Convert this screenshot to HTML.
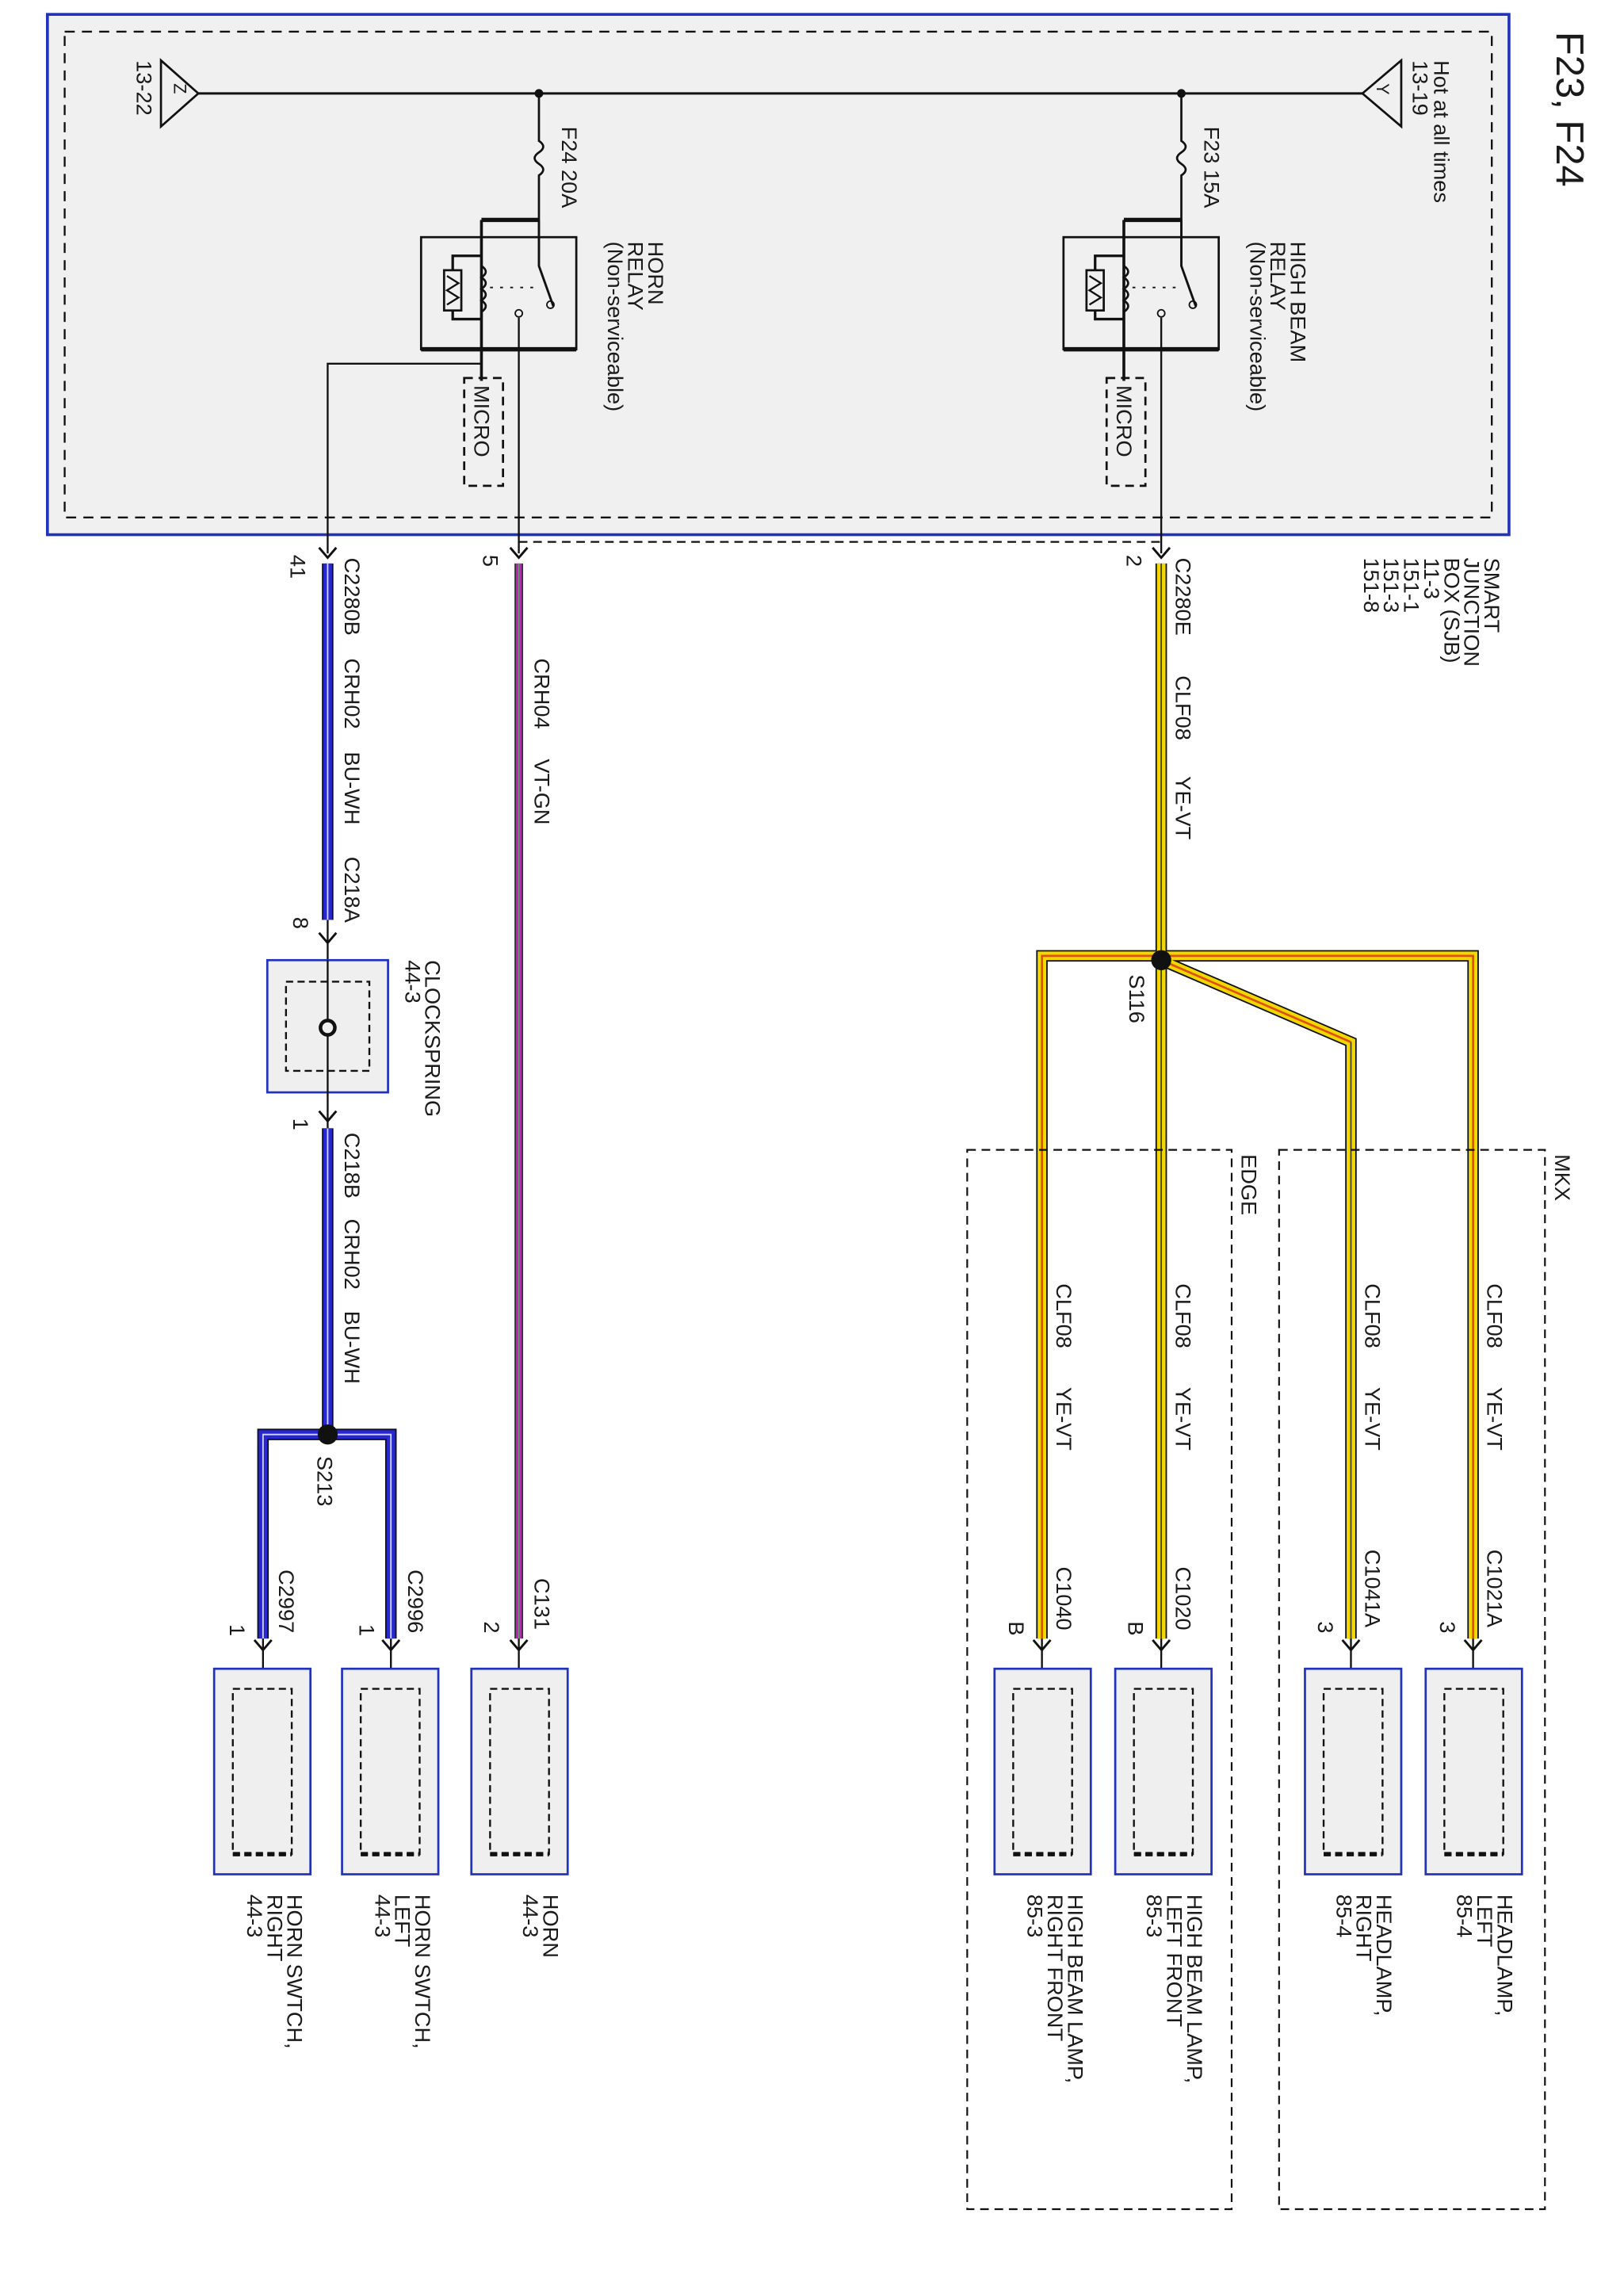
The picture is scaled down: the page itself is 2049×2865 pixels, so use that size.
<!DOCTYPE html>
<html><head><meta charset="utf-8"><style>
html,body{margin:0;padding:0;background:#fff}
svg{display:block}
text{font-family:"Liberation Sans",sans-serif;fill:#1a1a1a;font-size:15px}
</style></head><body>
<svg width="2049" height="2865" viewBox="0 0 1130 1580" xmlns="http://www.w3.org/2000/svg">
<defs>
<g id="arr"><polyline points="-6,-7 0,0 6,-7" fill="none" stroke="#111" stroke-width="1.6"/></g>
<g id="comp">
<rect x="0" y="0" width="67" height="143" fill="#efefef" stroke="#2233bb" stroke-width="1.5"/>
<rect x="13" y="14" width="41" height="115" fill="none" stroke="#111" stroke-width="1.3" stroke-dasharray="5,3"/>
<line x1="13" y1="129" x2="54" y2="129" stroke="#111" stroke-width="3" stroke-dasharray="5,3"/>
</g>
</defs>
<rect x="33" y="10" width="1017" height="362" fill="#f0f0f0" stroke="#2233bb" stroke-width="2"/>
<rect x="45" y="22" width="993" height="338" fill="none" stroke="#111" stroke-width="1.3" stroke-dasharray="7,5"/>
<text transform="translate(1083,22) rotate(90)" style="font-size:27px">F23, F24</text>
<line x1="138" y1="65" x2="948" y2="65" stroke="#111" stroke-width="1.6"/>
<polygon points="948,65 975,42 975,88" fill="#f0f0f0" stroke="#111" stroke-width="1.5"/>
<text transform="translate(958,58) rotate(90)" style="font-size:12px">Y</text>
<text transform="translate(983,42) rotate(90)">13-19</text>
<text transform="translate(998,42) rotate(90)">Hot at all times</text>
<polygon points="138,65 112,42 112,88" fill="#f0f0f0" stroke="#111" stroke-width="1.5"/>
<text transform="translate(121,58) rotate(90)" style="font-size:12px">Z</text>
<text transform="translate(95,42) rotate(90)">13-22</text>
<circle cx="375" cy="65" r="3" fill="#111"/><circle cx="822" cy="65" r="3" fill="#111"/>

<g id="relayHB">
<path d="M822,65 V98 q6,4 0,8 q-6,4 0,8 q6,4 0,8 V153" fill="none" stroke="#111" stroke-width="1.5"/>
<rect x="740" y="165" width="108" height="78" fill="none" stroke="#111" stroke-width="1.5"/>
<line x1="740" y1="243" x2="848" y2="243" stroke="#111" stroke-width="3"/>
<line x1="782" y1="153" x2="822" y2="153" stroke="#111" stroke-width="3"/>
<line x1="782" y1="153" x2="782" y2="265" stroke="#111" stroke-width="2"/>
<path d="M782,185 q6,4 0,8 q6,4 0,8 q6,4 0,8 q6,4 0,8" fill="none" stroke="#111" stroke-width="1.5"/>
<polyline points="782,178 762,178 762,222 782,222" fill="none" stroke="#111" stroke-width="1.8"/>
<rect x="756" y="188" width="12" height="28" fill="#f0f0f0" stroke="#111" stroke-width="1.5"/>
<polyline points="758,192 766,197 758,202 766,207 758,212" fill="none" stroke="#111" stroke-width="1.3"/>
<line x1="788" y1="200" x2="818" y2="200" stroke="#111" stroke-width="1" stroke-dasharray="2,5"/>
<polyline points="822,153 822,185 832,213" fill="none" stroke="#111" stroke-width="1.6"/>
<circle cx="830" cy="212" r="2.5" fill="none" stroke="#111"/>
<circle cx="808" cy="218" r="2.5" fill="none" stroke="#111"/>
<line x1="808" y1="221" x2="808" y2="385" stroke="#111" stroke-width="1.3"/>
<rect x="770" y="263" width="27" height="75" fill="none" stroke="#111" stroke-width="1.5" stroke-dasharray="6,4"/>
<text transform="translate(777,268) rotate(90)">MICRO</text>
</g>
<text transform="translate(838,88) rotate(90)">F23  15A</text>
<text transform="translate(898,168) rotate(90)">HIGH BEAM</text>
<text transform="translate(884,168) rotate(90)">RELAY</text>
<text transform="translate(870,168) rotate(90)">(Non-serviceable)</text>
<g transform="translate(-447,0)"><use href="#relayHB"/></g>
<text transform="translate(391,88) rotate(90)">F24  20A</text>
<text transform="translate(451,168) rotate(90)">HORN</text>
<text transform="translate(437,168) rotate(90)">RELAY</text>
<text transform="translate(423,168) rotate(90)">(Non-serviceable)</text>
<polyline points="335,253 228,253 228,385" fill="none" stroke="#111" stroke-width="1.3"/>

<line x1="361" y1="377" x2="808" y2="377" stroke="#111" stroke-width="1.3" stroke-dasharray="6,4"/>
<g transform="translate(228,388)"><use href="#arr"/></g>
<g transform="translate(361,388)"><use href="#arr"/></g>
<g transform="translate(808,388)"><use href="#arr"/></g>
<text transform="translate(202,386) rotate(90)">41</text>
<text transform="translate(336,386) rotate(90)">5</text>
<text transform="translate(784,386) rotate(90)">2</text>
<text transform="translate(1033,388) rotate(90)">SMART</text>
<text transform="translate(1019,388) rotate(90)">JUNCTION</text>
<text transform="translate(1005,388) rotate(90)">BOX (SJB)</text>
<text transform="translate(991,388) rotate(90)">11-3</text>
<text transform="translate(977,388) rotate(90)">151-1</text>
<text transform="translate(963,388) rotate(90)">151-3</text>
<text transform="translate(949,388) rotate(90)">151-8</text>

<g fill="none" stroke-linejoin="miter">
<path d="M808,392 V1140 M808,668 L940,725 V1140 M808,665 H1025 V1140 M808,665 H725 V1140" stroke="#111" stroke-width="8"/>
<path d="M808,392 V1140 M808,668 L940,725 V1140 M808,665 H1025 V1140 M808,665 H725 V1140" stroke="#f2d800" stroke-width="6"/>
<path d="M808,668 L940,725 M808,665 H1025 V1140 M808,665 H725 V1140" stroke="#e05010" stroke-width="1.5"/>
<path d="M808,392 V1140 M940,725 V1140" stroke="#443" stroke-width="1"/>
</g>
<circle cx="808" cy="668" r="7" fill="#111"/>
<text transform="translate(818,388) rotate(90)">C2280E</text>
<text transform="translate(818,470) rotate(90)">CLF08</text>
<text transform="translate(818,540) rotate(90)">YE-VT</text>
<text transform="translate(786,678) rotate(90)">S116</text>

<rect x="890" y="800" width="185" height="737" fill="none" stroke="#111" stroke-width="1.2" stroke-dasharray="6,4"/>
<rect x="673" y="800" width="184" height="737" fill="none" stroke="#111" stroke-width="1.2" stroke-dasharray="6,4"/>
<text transform="translate(1082,803) rotate(90)">MKX</text>
<text transform="translate(864,803) rotate(90)">EDGE</text>

<text transform="translate(1035,893) rotate(90)">CLF08</text><text transform="translate(1035,965) rotate(90)">YE-VT</text>
<text transform="translate(950,893) rotate(90)">CLF08</text><text transform="translate(950,965) rotate(90)">YE-VT</text>
<text transform="translate(818,893) rotate(90)">CLF08</text><text transform="translate(818,965) rotate(90)">YE-VT</text>
<text transform="translate(735,893) rotate(90)">CLF08</text><text transform="translate(735,965) rotate(90)">YE-VT</text>

<text transform="translate(1035,1078) rotate(90)">C1021A</text><text transform="translate(1002,1128) rotate(90)">3</text>
<text transform="translate(950,1078) rotate(90)">C1041A</text><text transform="translate(917,1128) rotate(90)">3</text>
<text transform="translate(818,1090) rotate(90)">C1020</text><text transform="translate(785,1128) rotate(90)">B</text>
<text transform="translate(735,1090) rotate(90)">C1040</text><text transform="translate(702,1128) rotate(90)">B</text>

<line x1="361" y1="392" x2="361" y2="1140" stroke="#333" stroke-width="6"/>
<line x1="361" y1="392" x2="361" y2="1140" stroke="#c020c0" stroke-width="4"/>
<line x1="361" y1="392" x2="361" y2="1140" stroke="#60a060" stroke-width="0.8"/>
<text transform="translate(372,458) rotate(90)">CRH04</text>
<text transform="translate(372,528) rotate(90)">VT-GN</text>
<text transform="translate(372,1098) rotate(90)">C131</text>
<text transform="translate(337,1128) rotate(90)">2</text>

<g fill="none">
<path d="M228,392 V640 M228,785 V998 M228,998 H183 V1140 M228,998 H272 V1140" stroke="#111" stroke-width="8"/>
<path d="M228,392 V640 M228,785 V998 M228,998 H183 V1140 M228,998 H272 V1140" stroke="#2828d0" stroke-width="6"/>
<path d="M228,392 V640 M228,785 V998 M228,998 H183 V1140 M228,998 H272 V1140" stroke="#d8d8ff" stroke-width="1"/>
</g>
<circle cx="228" cy="998" r="7" fill="#111"/>
<text transform="translate(240,388) rotate(90)">C2280B</text>
<text transform="translate(240,458) rotate(90)">CRH02</text>
<text transform="translate(240,523) rotate(90)">BU-WH</text>
<text transform="translate(240,596) rotate(90)">C218A</text>
<text transform="translate(204,638) rotate(90)">8</text>
<line x1="228" y1="640" x2="228" y2="668" stroke="#111" stroke-width="1.3"/>
<g transform="translate(228,656)"><use href="#arr"/></g>
<rect x="186" y="668" width="84" height="92" fill="#efefef" stroke="#2233bb" stroke-width="1.5"/>
<rect x="199" y="683" width="58" height="62" fill="none" stroke="#111" stroke-width="1.3" stroke-dasharray="5,3"/>
<line x1="228" y1="668" x2="228" y2="785" stroke="#111" stroke-width="1.3"/>
<circle cx="228" cy="715" r="5" fill="#efefef" stroke="#111" stroke-width="2.5"/>
<g transform="translate(228,780)"><use href="#arr"/></g>
<text transform="translate(296,668) rotate(90)">CLOCKSPRING</text>
<text transform="translate(282,668) rotate(90)">44-3</text>
<text transform="translate(204,778) rotate(90)">1</text>
<text transform="translate(240,788) rotate(90)">C218B</text>
<text transform="translate(240,848) rotate(90)">CRH02</text>
<text transform="translate(240,912) rotate(90)">BU-WH</text>
<text transform="translate(221,1013) rotate(90)">S213</text>
<text transform="translate(194,1092) rotate(90)">C2997</text><text transform="translate(160,1130) rotate(90)">1</text>
<text transform="translate(284,1092) rotate(90)">C2996</text><text transform="translate(250,1130) rotate(90)">1</text>

<g transform="translate(1025,1148)"><use href="#arr"/></g>
<g transform="translate(940,1148)"><use href="#arr"/></g>
<g transform="translate(808,1148)"><use href="#arr"/></g>
<g transform="translate(725,1148)"><use href="#arr"/></g>
<g transform="translate(361,1148)"><use href="#arr"/></g>
<g transform="translate(272,1148)"><use href="#arr"/></g>
<g transform="translate(183,1148)"><use href="#arr"/></g>
<g stroke="#111" stroke-width="1.3">
<line x1="1025" y1="1140" x2="1025" y2="1175"/><line x1="940" y1="1140" x2="940" y2="1175"/>
<line x1="808" y1="1140" x2="808" y2="1175"/><line x1="725" y1="1140" x2="725" y2="1175"/>
<line x1="361" y1="1140" x2="361" y2="1175"/><line x1="272" y1="1140" x2="272" y2="1175"/>
<line x1="183" y1="1140" x2="183" y2="1175"/>
</g>
<use href="#comp" x="992" y="1161"/><use href="#comp" x="908" y="1161"/>
<use href="#comp" x="776" y="1161"/><use href="#comp" x="692" y="1161"/>
<use href="#comp" x="328" y="1161"/><use href="#comp" x="238" y="1161"/>
<use href="#comp" x="149" y="1161"/>

<text transform="translate(1042,1318) rotate(90)">HEADLAMP,</text>
<text transform="translate(1028,1318) rotate(90)">LEFT</text>
<text transform="translate(1014,1318) rotate(90)">85-4</text>
<text transform="translate(958,1318) rotate(90)">HEADLAMP,</text>
<text transform="translate(944,1318) rotate(90)">RIGHT</text>
<text transform="translate(930,1318) rotate(90)">85-4</text>
<text transform="translate(826,1318) rotate(90)">HIGH BEAM LAMP,</text>
<text transform="translate(812,1318) rotate(90)">LEFT FRONT</text>
<text transform="translate(798,1318) rotate(90)">85-3</text>
<text transform="translate(743,1318) rotate(90)">HIGH BEAM LAMP,</text>
<text transform="translate(729,1318) rotate(90)">RIGHT FRONT</text>
<text transform="translate(715,1318) rotate(90)">85-3</text>
<text transform="translate(378,1318) rotate(90)">HORN</text>
<text transform="translate(364,1318) rotate(90)">44-3</text>
<text transform="translate(289,1318) rotate(90)">HORN SWTCH,</text>
<text transform="translate(275,1318) rotate(90)">LEFT</text>
<text transform="translate(261,1318) rotate(90)">44-3</text>
<text transform="translate(200,1318) rotate(90)">HORN SWTCH,</text>
<text transform="translate(186,1318) rotate(90)">RIGHT</text>
<text transform="translate(172,1318) rotate(90)">44-3</text>
</svg>
</body></html>
